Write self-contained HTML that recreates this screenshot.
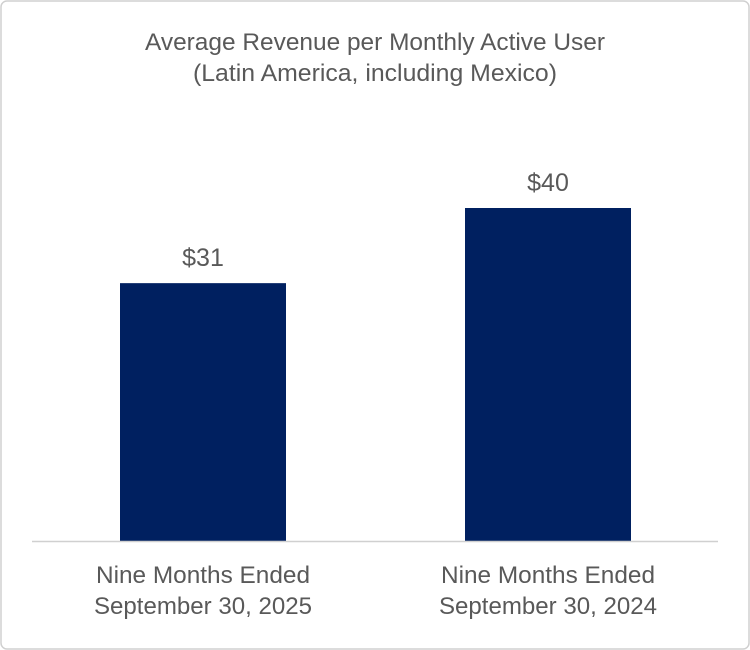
<!DOCTYPE html>
<html>
<head>
<meta charset="utf-8">
<style>
  html, body { margin: 0; padding: 0; background: #fff; }
  svg { display: block; font-family: "Liberation Sans", Calibri, sans-serif; }
</style>
</head>
<body>
<svg id="chart" width="750" height="650" viewBox="0 0 750 650">
  <rect x="1" y="1" width="748" height="648" rx="6" fill="#fff" stroke="#d0d0d0" stroke-width="1.5"/>
  <text x="375" y="50" text-anchor="middle" font-size="24" textLength="460" lengthAdjust="spacingAndGlyphs" fill="#595959">Average Revenue per Monthly Active User</text>
  <text x="375" y="81" text-anchor="middle" font-size="24" textLength="364" lengthAdjust="spacingAndGlyphs" fill="#595959">(Latin America, including Mexico)</text>
  <g id="bars"></g>
  <line x1="32" y1="541.5" x2="718" y2="541.5" stroke="#d0d0d0" stroke-width="1.5"/>
</svg>
<script>
const categoriesLine1 = ["Nine Months Ended", "Nine Months Ended"];
const categoriesLine2 = ["September 30, 2025", "September 30, 2024"];
const values = [31, 40];
const valueLabels = ["$31", "$40"];

const ns = "http://www.w3.org/2000/svg";
const g = document.getElementById("bars");
const baseY = 541;
const pxPerUnit = 8.35;
function yScale(v) { return baseY - v * pxPerUnit; }
const bandStart = 30, bandWidth = 345;
function xCenter(i) { return bandStart + bandWidth * i + bandWidth / 2 + 0.5; }
const barW = 166;

values.forEach((v, i) => {
  const cx = xCenter(i);
  const r = document.createElementNS(ns, "rect");
  r.setAttribute("x", cx - barW / 2);
  r.setAttribute("y", yScale(v) + 1);
  r.setAttribute("width", barW);
  r.setAttribute("height", baseY - yScale(v) - 1);
  r.setAttribute("fill", "#002060");
  
  
  g.appendChild(r);

  const t = document.createElementNS(ns, "text");
  t.setAttribute("x", cx);
  t.setAttribute("y", yScale(v) - 16);
  t.setAttribute("text-anchor", "middle");
  t.setAttribute("font-size", "25");
  t.setAttribute("fill", "#595959");
  t.textContent = valueLabels[i];
  
  
  g.appendChild(t);

  [categoriesLine1[i], categoriesLine2[i]].forEach((s, j) => {
    const c = document.createElementNS(ns, "text");
    c.setAttribute("x", cx);
    c.setAttribute("y", 583 + j * 31);
    c.setAttribute("text-anchor", "middle");
    c.setAttribute("font-size", "24");
    c.setAttribute("textLength", j === 0 ? "214" : "218");
    c.setAttribute("lengthAdjust", "spacingAndGlyphs");
    c.setAttribute("fill", "#595959");
    c.textContent = s;
    
    
    g.appendChild(c);
  });
});
</script>
</body>
</html>
